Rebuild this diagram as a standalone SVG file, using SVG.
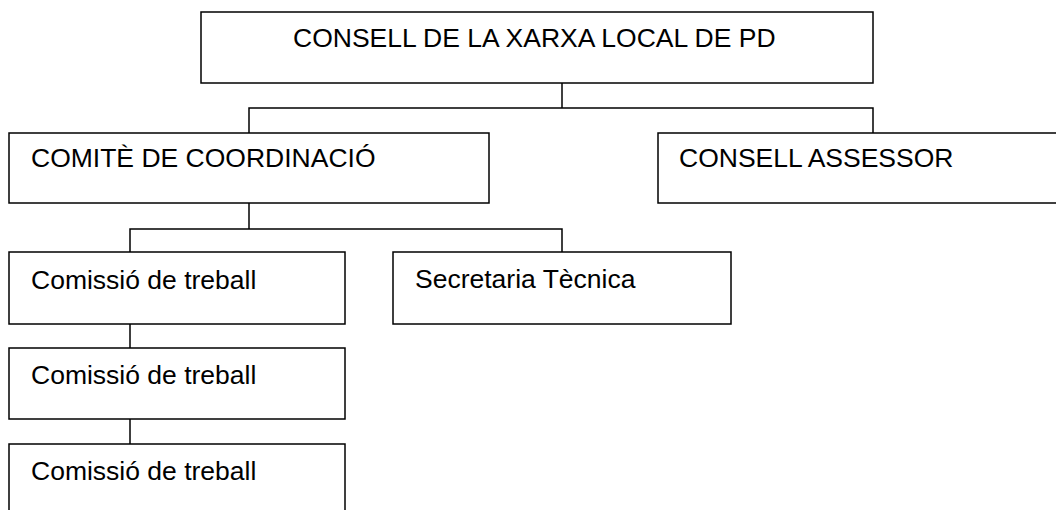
<svg xmlns="http://www.w3.org/2000/svg" width="1056" height="510" viewBox="0 0 1056 510">
<style>
.box{fill:#fff;stroke:#000;stroke-width:1.5}
.lbl{font-family:"Liberation Sans",Arial,sans-serif;font-size:26.5px;fill:#000}
.conn{fill:none;stroke:#000;stroke-width:1.5}
</style>
<rect width="1056" height="510" fill="#fff"/>
<g id="connectors">
<polyline class="conn" points="562,83 562,108"/>
<polyline class="conn" points="249,133 249,108 873,108 873,133"/>
<polyline class="conn" points="249,203 249,229"/>
<polyline class="conn" points="130,252 130,229 562,229 562,252"/>
<polyline class="conn" points="130,324 130,348"/>
<polyline class="conn" points="130,419 130,444"/>
</g>
<g id="consell-xarxa">
<rect class="box" x="201" y="12" width="672" height="71"/>
<text class="lbl" x="293" y="47">CONSELL DE LA XARXA LOCAL DE PD</text>
</g>
<g id="comite">
<rect class="box" x="9" y="133" width="480" height="70"/>
<text class="lbl" x="31" y="167">COMITÈ DE COORDINACIÓ</text>
</g>
<g id="consell-assessor">
<rect class="box" x="658" y="133" width="410" height="70"/>
<text class="lbl" x="679" y="167">CONSELL ASSESSOR</text>
</g>
<g id="comissio-1">
<rect class="box" x="9" y="252" width="336" height="72"/>
<text class="lbl" x="31" y="289">Comissió de treball</text>
</g>
<g id="secretaria">
<rect class="box" x="393" y="252" width="338" height="72"/>
<text class="lbl" x="415" y="288">Secretaria Tècnica</text>
</g>
<g id="comissio-2">
<rect class="box" x="9" y="348" width="336" height="71"/>
<text class="lbl" x="31" y="384">Comissió de treball</text>
</g>
<g id="comissio-3">
<rect class="box" x="9" y="444" width="336" height="80"/>
<text class="lbl" x="31" y="480">Comissió de treball</text>
</g>
</svg>
